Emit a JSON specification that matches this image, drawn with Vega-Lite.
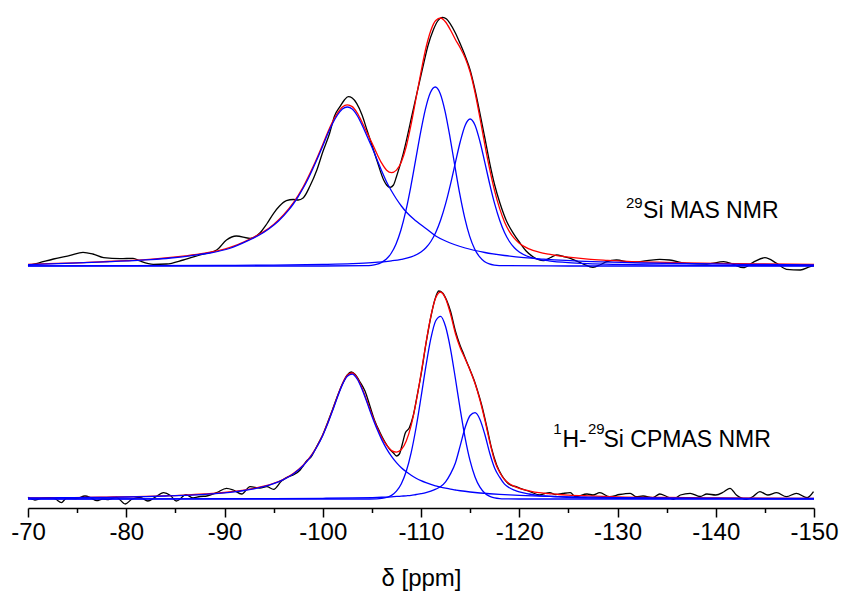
{
"$schema": "https://vega.github.io/schema/vega-lite/v6.json",
"width": 786, "height": 508,
"autosize": {"type": "none"},
"padding": {"left": 28, "top": 0, "right": 29, "bottom": 90},
"background": "white",
"config": {"view": {"stroke": null}, "font": "Liberation Sans"},
"datasets": {
"exp": [
{"g":"t","x":-70,"y":242.3},{"g":"t","x":-70.5,"y":243.5},{"g":"t","x":-71.2,"y":245.3},{"g":"t","x":-72.6,"y":249},{"g":"t","x":-74.3,"y":252.7},{"g":"t","x":-75.6,"y":255.7},{"g":"t","x":-76.6,"y":254},{"g":"t","x":-77.7,"y":250.3},{"g":"t","x":-79.4,"y":249.3},{"g":"t","x":-80.7,"y":249.7},{"g":"t","x":-81.4,"y":247},{"g":"t","x":-82.75,"y":243.7},{"g":"t","x":-84.1,"y":244},{"g":"t","x":-85.8,"y":248},{"g":"t","x":-87.5,"y":253},{"g":"t","x":-89.2,"y":258},{"g":"t","x":-90.2,"y":268},{"g":"t","x":-91.2,"y":272},{"g":"t","x":-92.6,"y":269.7},{"g":"t","x":-93.6,"y":275},{"g":"t","x":-94.3,"y":284},{"g":"t","x":-95.0,"y":294.7},{"g":"t","x":-95.6,"y":302},{"g":"t","x":-96.3,"y":307.3},{"g":"t","x":-97.0,"y":308.5},{"g":"t","x":-97.5,"y":308},{"g":"t","x":-98.0,"y":310},{"g":"t","x":-98.7,"y":322},{"g":"t","x":-99.4,"y":338},{"g":"t","x":-100.0,"y":356},{"g":"t","x":-100.7,"y":374.7},{"g":"t","x":-101.2,"y":392},{"g":"t","x":-101.75,"y":401.3},{"g":"t","x":-102.2,"y":408},{"g":"t","x":-102.6,"y":411.3},{"g":"t","x":-103.0,"y":410},{"g":"t","x":-103.45,"y":404.7},{"g":"t","x":-104.0,"y":393},{"g":"t","x":-104.5,"y":378},{"g":"t","x":-105.0,"y":363},{"g":"t","x":-105.5,"y":348},{"g":"t","x":-106.2,"y":328},{"g":"t","x":-106.5,"y":323},{"g":"t","x":-106.85,"y":320.7},{"g":"t","x":-107.2,"y":323},{"g":"t","x":-107.5,"y":331.3},{"g":"t","x":-108.2,"y":354.7},{"g":"t","x":-109.2,"y":398},{"g":"t","x":-110.2,"y":441.3},{"g":"t","x":-110.7,"y":462},{"g":"t","x":-111.25,"y":478},{"g":"t","x":-111.7,"y":487},{"g":"t","x":-112.2,"y":490.7},{"g":"t","x":-112.6,"y":489},{"g":"t","x":-112.95,"y":484.7},{"g":"t","x":-113.5,"y":475},{"g":"t","x":-113.97,"y":464.7},{"g":"t","x":-114.5,"y":452},{"g":"t","x":-115,"y":438},{"g":"t","x":-115.5,"y":418},{"g":"t","x":-116.0,"y":394.7},{"g":"t","x":-116.5,"y":370},{"g":"t","x":-117.0,"y":344.7},{"g":"t","x":-117.5,"y":323},{"g":"t","x":-118.04,"y":304.7},{"g":"t","x":-118.7,"y":287},{"g":"t","x":-119.4,"y":274.7},{"g":"t","x":-120.1,"y":264.7},{"g":"t","x":-120.7,"y":257},{"g":"t","x":-121.4,"y":251.3},{"g":"t","x":-122.45,"y":247.3},{"g":"t","x":-123.2,"y":250.5},{"g":"t","x":-123.8,"y":253},{"g":"t","x":-124.5,"y":251.5},{"g":"t","x":-125.2,"y":249.7},{"g":"t","x":-126.5,"y":244},{"g":"t","x":-127.5,"y":240.7},{"g":"t","x":-128.3,"y":243.5},{"g":"t","x":-128.9,"y":246.3},{"g":"t","x":-129.9,"y":248},{"g":"t","x":-131.3,"y":245.7},{"g":"t","x":-133.0,"y":247.3},{"g":"t","x":-134.3,"y":248.7},{"g":"t","x":-135.3,"y":248},{"g":"t","x":-137.0,"y":244.7},{"g":"t","x":-139.1,"y":244},{"g":"t","x":-140.8,"y":246.3},{"g":"t","x":-141.8,"y":243.7},{"g":"t","x":-142.8,"y":240.3},{"g":"t","x":-143.8,"y":245.7},{"g":"t","x":-145.0,"y":250.3},{"g":"t","x":-146.2,"y":244.7},{"g":"t","x":-147.2,"y":238.7},{"g":"t","x":-148.6,"y":238},{"g":"t","x":-149.6,"y":241.3},{"g":"t","x":-150,"y":242.3},
{"g":"b","x":-70,"y":10.7},{"g":"b","x":-70.7,"y":8},{"g":"b","x":-71.2,"y":9.3},{"g":"b","x":-72.2,"y":10.3},{"g":"b","x":-72.8,"y":9},{"g":"b","x":-73.4,"y":5.3},{"g":"b","x":-73.9,"y":9.7},{"g":"b","x":-74.9,"y":9.5},{"g":"b","x":-75.8,"y":12},{"g":"b","x":-76.4,"y":10.2},{"g":"b","x":-77.0,"y":7.3},{"g":"b","x":-77.6,"y":9},{"g":"b","x":-78.2,"y":8.5},{"g":"b","x":-79.0,"y":10.7},{"g":"b","x":-79.9,"y":4},{"g":"b","x":-80.6,"y":9},{"g":"b","x":-81.4,"y":10.7},{"g":"b","x":-82.2,"y":7},{"g":"b","x":-82.9,"y":10.5},{"g":"b","x":-83.8,"y":15.3},{"g":"b","x":-84.5,"y":12.5},{"g":"b","x":-85.1,"y":7},{"g":"b","x":-86.1,"y":13.3},{"g":"b","x":-86.8,"y":10},{"g":"b","x":-87.5,"y":11.5},{"g":"b","x":-88.2,"y":12},{"g":"b","x":-89.2,"y":15.3},{"g":"b","x":-90.2,"y":19.7},{"g":"b","x":-90.9,"y":18},{"g":"b","x":-91.75,"y":14},{"g":"b","x":-92.6,"y":21.3},{"g":"b","x":-93.6,"y":20},{"g":"b","x":-94.3,"y":21.3},{"g":"b","x":-95.0,"y":18.7},{"g":"b","x":-95.8,"y":27},{"g":"b","x":-96.5,"y":31.3},{"g":"b","x":-97.0,"y":33},{"g":"b","x":-97.7,"y":38},{"g":"b","x":-98,"y":42},{"g":"b","x":-98.4,"y":47.5},{"g":"b","x":-98.8,"y":51},{"g":"b","x":-99.2,"y":58},{"g":"b","x":-99.6,"y":65.5},{"g":"b","x":-100,"y":73},{"g":"b","x":-100.5,"y":85.5},{"g":"b","x":-101,"y":98.5},{"g":"b","x":-101.5,"y":112},{"g":"b","x":-102,"y":124},{"g":"b","x":-102.5,"y":133},{"g":"b","x":-102.9,"y":136},{"g":"b","x":-103.3,"y":133.5},{"g":"b","x":-103.8,"y":126},{"g":"b","x":-104.3,"y":117},{"g":"b","x":-104.8,"y":102},{"g":"b","x":-105.3,"y":87},{"g":"b","x":-105.8,"y":76},{"g":"b","x":-106.3,"y":66.5},{"g":"b","x":-106.8,"y":59},{"g":"b","x":-107.2,"y":55},{"g":"b","x":-107.5,"y":52},{"g":"b","x":-107.8,"y":54},{"g":"b","x":-108.1,"y":64},{"g":"b","x":-108.4,"y":75},{"g":"b","x":-108.8,"y":80},{"g":"b","x":-109.2,"y":92},{"g":"b","x":-109.6,"y":112},{"g":"b","x":-110.0,"y":133},{"g":"b","x":-110.5,"y":164},{"g":"b","x":-111.0,"y":191},{"g":"b","x":-111.4,"y":208},{"g":"b","x":-111.8,"y":217},{"g":"b","x":-112.2,"y":215},{"g":"b","x":-112.6,"y":208},{"g":"b","x":-113.0,"y":197},{"g":"b","x":-113.5,"y":177},{"g":"b","x":-114.0,"y":162},{"g":"b","x":-114.3,"y":155},{"g":"b","x":-114.65,"y":146.3},{"g":"b","x":-115.0,"y":138},{"g":"b","x":-115.4,"y":128},{"g":"b","x":-115.7,"y":119},{"g":"b","x":-116.2,"y":102},{"g":"b","x":-116.7,"y":81},{"g":"b","x":-117.2,"y":59},{"g":"b","x":-117.7,"y":43},{"g":"b","x":-118.2,"y":33},{"g":"b","x":-118.7,"y":26.3},{"g":"b","x":-119.2,"y":22.5},{"g":"b","x":-119.7,"y":21.3},{"g":"b","x":-120.1,"y":19.7},{"g":"b","x":-121.1,"y":16.3},{"g":"b","x":-122.1,"y":13},{"g":"b","x":-122.6,"y":14.5},{"g":"b","x":-123.1,"y":15.3},{"g":"b","x":-123.7,"y":13.5},{"g":"b","x":-124.4,"y":14.5},{"g":"b","x":-125.2,"y":15.3},{"g":"b","x":-125.7,"y":11.3},{"g":"b","x":-126.9,"y":14},{"g":"b","x":-127.5,"y":13},{"g":"b","x":-128.2,"y":15.3},{"g":"b","x":-129.2,"y":11.3},{"g":"b","x":-130.2,"y":13.5},{"g":"b","x":-131.3,"y":14.7},{"g":"b","x":-131.9,"y":11.3},{"g":"b","x":-132.6,"y":12},{"g":"b","x":-133.6,"y":10.3},{"g":"b","x":-134.3,"y":14},{"g":"b","x":-135.0,"y":11.5},{"g":"b","x":-135.7,"y":8.7},{"g":"b","x":-136.4,"y":13},{"g":"b","x":-137.4,"y":14.7},{"g":"b","x":-138.4,"y":11.5},{"g":"b","x":-139.1,"y":14},{"g":"b","x":-140.0,"y":13},{"g":"b","x":-140.8,"y":16},{"g":"b","x":-141.45,"y":19.7},{"g":"b","x":-142.1,"y":13},{"g":"b","x":-143.15,"y":8.7},{"g":"b","x":-143.8,"y":11.5},{"g":"b","x":-144.5,"y":16.3},{"g":"b","x":-145.3,"y":13},{"g":"b","x":-146.2,"y":15.3},{"g":"b","x":-147.2,"y":11.3},{"g":"b","x":-148.2,"y":14.7},{"g":"b","x":-149.3,"y":10.3},{"g":"b","x":-149.95,"y":16.3}
],
"fit": [
{"g":"t","x":-70,"y":243.6},{"g":"t","x":-72,"y":244.3},{"g":"t","x":-74,"y":244.8},{"g":"t","x":-76,"y":245.6},{"g":"t","x":-78,"y":246.5},{"g":"t","x":-80,"y":247.4},{"g":"t","x":-82,"y":248.4},{"g":"t","x":-84,"y":250.0},{"g":"t","x":-86,"y":252.1},{"g":"t","x":-88,"y":254.8},{"g":"t","x":-90,"y":258.8},{"g":"t","x":-91,"y":262.1},{"g":"t","x":-92,"y":266.2},{"g":"t","x":-93,"y":270.9},{"g":"t","x":-94,"y":276.4},{"g":"t","x":-95,"y":283.6},{"g":"t","x":-96,"y":293.0},{"g":"t","x":-97,"y":305.1},{"g":"t","x":-98,"y":320.9},{"g":"t","x":-99,"y":340.9},{"g":"t","x":-100,"y":363.6},{"g":"t","x":-100.5,"y":375.6},{"g":"t","x":-101,"y":386.2},{"g":"t","x":-101.5,"y":394.8},{"g":"t","x":-102,"y":401.0},{"g":"t","x":-102.5,"y":403.1},{"g":"t","x":-103,"y":401.4},{"g":"t","x":-103.5,"y":395.1},{"g":"t","x":-104,"y":385.8},{"g":"t","x":-104.5,"y":375.4},{"g":"t","x":-105,"y":365.2},{"g":"t","x":-105.5,"y":354.5},{"g":"t","x":-106,"y":344.8},{"g":"t","x":-106.5,"y":337.8},{"g":"t","x":-107,"y":335.4},{"g":"t","x":-107.5,"y":337.9},{"g":"t","x":-108,"y":346.1},{"g":"t","x":-108.5,"y":361.5},{"g":"t","x":-109,"y":384},{"g":"t","x":-109.5,"y":410},{"g":"t","x":-110,"y":436},{"g":"t","x":-110.5,"y":460},{"g":"t","x":-111,"y":477.5},{"g":"t","x":-111.5,"y":487.5},{"g":"t","x":-112,"y":490},{"g":"t","x":-112.5,"y":486},{"g":"t","x":-113,"y":478},{"g":"t","x":-113.5,"y":468.5},{"g":"t","x":-114,"y":460},{"g":"t","x":-114.5,"y":450},{"g":"t","x":-115,"y":436},{"g":"t","x":-115.5,"y":415.5},{"g":"t","x":-116,"y":390},{"g":"t","x":-116.5,"y":363.2},{"g":"t","x":-117,"y":338.4},{"g":"t","x":-117.5,"y":316.9},{"g":"t","x":-118,"y":299.6},{"g":"t","x":-118.5,"y":286.1},{"g":"t","x":-119,"y":276.4},{"g":"t","x":-119.5,"y":269.6},{"g":"t","x":-120,"y":264.8},{"g":"t","x":-121,"y":259.1},{"g":"t","x":-122,"y":255.9},{"g":"t","x":-123,"y":253.8},{"g":"t","x":-124,"y":252.2},{"g":"t","x":-125,"y":250.9},{"g":"t","x":-127,"y":248.9},{"g":"t","x":-129,"y":247.7},{"g":"t","x":-131,"y":246.7},{"g":"t","x":-134,"y":245.8},{"g":"t","x":-137,"y":245.1},{"g":"t","x":-140,"y":244.6},{"g":"t","x":-145,"y":244.0},{"g":"t","x":-150,"y":243.5},
{"g":"b","x":-70,"y":10.1},{"g":"b","x":-72,"y":10.2},{"g":"b","x":-74,"y":10.4},{"g":"b","x":-76,"y":10.6},{"g":"b","x":-78,"y":10.9},{"g":"b","x":-80,"y":11.2},{"g":"b","x":-82,"y":11.6},{"g":"b","x":-84,"y":12.2},{"g":"b","x":-86,"y":12.9},{"g":"b","x":-88,"y":14.0},{"g":"b","x":-90,"y":15.5},{"g":"b","x":-91,"y":16.6},{"g":"b","x":-92,"y":17.9},{"g":"b","x":-93,"y":19.6},{"g":"b","x":-94,"y":21.8},{"g":"b","x":-95,"y":24.7},{"g":"b","x":-96,"y":28.7},{"g":"b","x":-97,"y":34.5},{"g":"b","x":-98,"y":42.8},{"g":"b","x":-98.5,"y":48.4},{"g":"b","x":-99,"y":55.1},{"g":"b","x":-99.5,"y":63.3},{"g":"b","x":-100,"y":73.3},{"g":"b","x":-100.5,"y":84.9},{"g":"b","x":-101,"y":98.1},{"g":"b","x":-101.5,"y":111.8},{"g":"b","x":-102,"y":124.3},{"g":"b","x":-102.5,"y":132.7},{"g":"b","x":-103,"y":135.0},{"g":"b","x":-103.5,"y":130.1},{"g":"b","x":-104,"y":119.9},{"g":"b","x":-104.5,"y":106.9},{"g":"b","x":-105,"y":93.5},{"g":"b","x":-105.5,"y":81.2},{"g":"b","x":-106,"y":70.8},{"g":"b","x":-106.5,"y":62.8},{"g":"b","x":-107,"y":57.4},{"g":"b","x":-107.5,"y":55.8},{"g":"b","x":-108,"y":58.5},{"g":"b","x":-108.5,"y":67.1},{"g":"b","x":-109,"y":82.7},{"g":"b","x":-109.5,"y":105.8},{"g":"b","x":-110,"y":134.2},{"g":"b","x":-110.5,"y":164.6},{"g":"b","x":-111,"y":191.7},{"g":"b","x":-111.5,"y":210.3},{"g":"b","x":-112,"y":216.0},{"g":"b","x":-112.5,"y":209.4},{"g":"b","x":-113,"y":194.1},{"g":"b","x":-113.5,"y":174.5},{"g":"b","x":-114,"y":160.0},{"g":"b","x":-114.5,"y":149.0},{"g":"b","x":-115,"y":137.6},{"g":"b","x":-115.5,"y":124.5},{"g":"b","x":-116,"y":108},{"g":"b","x":-116.5,"y":88},{"g":"b","x":-117,"y":66},{"g":"b","x":-117.5,"y":47},{"g":"b","x":-118,"y":35.8},{"g":"b","x":-118.5,"y":28.4},{"g":"b","x":-119,"y":24.3},{"g":"b","x":-119.5,"y":21.7},{"g":"b","x":-120,"y":19.7},{"g":"b","x":-121,"y":17.2},{"g":"b","x":-122,"y":15.3},{"g":"b","x":-123,"y":14.4},{"g":"b","x":-124,"y":13.5},{"g":"b","x":-125,"y":12.9},{"g":"b","x":-127,"y":12.1},{"g":"b","x":-130,"y":11.2},{"g":"b","x":-135,"y":10.5},{"g":"b","x":-140,"y":10.1},{"g":"b","x":-145,"y":9.8},{"g":"b","x":-150,"y":9.6}
],
"comp": [
{"g":"t1","x":-70,"y":243.4},{"g":"t1","x":-74.5,"y":244.8},{"g":"t1","x":-78.5,"y":246.4},{"g":"t1","x":-82.5,"y":248.4},{"g":"t1","x":-84.5,"y":250.0},{"g":"t1","x":-86.5,"y":252.2},{"g":"t1","x":-88.5,"y":255.0},{"g":"t1","x":-90.5,"y":259.5},{"g":"t1","x":-92.5,"y":267.8},{"g":"t1","x":-93.5,"y":272.7},{"g":"t1","x":-94.5,"y":279.0},{"g":"t1","x":-95.5,"y":287.0},{"g":"t1","x":-96.5,"y":297.6},{"g":"t1","x":-97,"y":304.0},{"g":"t1","x":-97.5,"y":311.4},{"g":"t1","x":-98,"y":319.7},{"g":"t1","x":-98.5,"y":329.0},{"g":"t1","x":-99,"y":339.5},{"g":"t1","x":-99.5,"y":350.5},{"g":"t1","x":-100,"y":362.0},{"g":"t1","x":-100.5,"y":374.0},{"g":"t1","x":-101,"y":384.5},{"g":"t1","x":-101.5,"y":393.0},{"g":"t1","x":-102,"y":399.0},{"g":"t1","x":-102.5,"y":401.0},{"g":"t1","x":-103,"y":399.0},{"g":"t1","x":-103.5,"y":392.5},{"g":"t1","x":-104,"y":383.0},{"g":"t1","x":-104.5,"y":372.0},{"g":"t1","x":-105,"y":361.0},{"g":"t1","x":-105.5,"y":349.0},{"g":"t1","x":-106,"y":337.0},{"g":"t1","x":-106.5,"y":326.0},{"g":"t1","x":-107,"y":317.0},{"g":"t1","x":-107.5,"y":309.0},{"g":"t1","x":-108,"y":302.0},{"g":"t1","x":-108.5,"y":296.0},{"g":"t1","x":-109.5,"y":287.0},{"g":"t1","x":-110.5,"y":279.5},{"g":"t1","x":-111.5,"y":272.0},{"g":"t1","x":-112.5,"y":267.0},{"g":"t1","x":-114.5,"y":260.0},{"g":"t1","x":-116.5,"y":255.5},{"g":"t1","x":-118.5,"y":252.5},{"g":"t1","x":-120.5,"y":250.3},{"g":"t1","x":-122.5,"y":248.8},{"g":"t1","x":-127.5,"y":246.3},{"g":"t1","x":-132.5,"y":245.0},{"g":"t1","x":-142.5,"y":243.7},{"g":"t1","x":-150,"y":243.2},
{"g":"t2","x":-70,"y":242},{"g":"t2","x":-100,"y":242},{"g":"t2","x":-104.45,"y":242.3},{"g":"t2","x":-104.95,"y":242.7},{"g":"t2","x":-105.45,"y":243.6},{"g":"t2","x":-105.95,"y":245.4},{"g":"t2","x":-106.45,"y":248.7},{"g":"t2","x":-106.95,"y":254.5},{"g":"t2","x":-107.45,"y":263.8},{"g":"t2","x":-107.95,"y":277.7},{"g":"t2","x":-108.45,"y":296.8},{"g":"t2","x":-108.95,"y":320.7},{"g":"t2","x":-109.45,"y":347.8},{"g":"t2","x":-109.95,"y":375.1},{"g":"t2","x":-110.45,"y":398.9},{"g":"t2","x":-110.95,"y":415.2},{"g":"t2","x":-111.45,"y":421.0},{"g":"t2","x":-111.95,"y":414.6},{"g":"t2","x":-112.45,"y":396.7},{"g":"t2","x":-112.95,"y":370.9},{"g":"t2","x":-113.45,"y":341.8},{"g":"t2","x":-113.95,"y":313.8},{"g":"t2","x":-114.45,"y":290.1},{"g":"t2","x":-114.95,"y":271.9},{"g":"t2","x":-115.45,"y":259.3},{"g":"t2","x":-115.95,"y":251.3},{"g":"t2","x":-116.45,"y":246.6},{"g":"t2","x":-116.95,"y":244.1},{"g":"t2","x":-117.45,"y":242.9},{"g":"t2","x":-117.95,"y":242.4},{"g":"t2","x":-125,"y":242},{"g":"t2","x":-150,"y":242},
{"g":"t3","x":-70,"y":242.2},{"g":"t3","x":-80,"y":242.3},{"g":"t3","x":-90,"y":242.6},{"g":"t3","x":-95,"y":242.9},{"g":"t3","x":-100,"y":243.6},{"g":"t3","x":-103,"y":244.4},{"g":"t3","x":-105,"y":245.4},{"g":"t3","x":-107,"y":247.2},{"g":"t3","x":-108,"y":248.7},{"g":"t3","x":-109,"y":251.1},{"g":"t3","x":-110,"y":256.0},{"g":"t3","x":-110.5,"y":260.2},{"g":"t3","x":-111,"y":266.5},{"g":"t3","x":-111.5,"y":275.5},{"g":"t3","x":-112,"y":288.0},{"g":"t3","x":-112.5,"y":304.1},{"g":"t3","x":-113,"y":323.7},{"g":"t3","x":-113.5,"y":345.4},{"g":"t3","x":-114,"y":366.5},{"g":"t3","x":-114.5,"y":382.8},{"g":"t3","x":-115,"y":389.0},{"g":"t3","x":-115.5,"y":382.8},{"g":"t3","x":-116,"y":366.5},{"g":"t3","x":-116.5,"y":345.4},{"g":"t3","x":-117,"y":323.7},{"g":"t3","x":-117.5,"y":304.1},{"g":"t3","x":-118,"y":288.0},{"g":"t3","x":-118.5,"y":275.5},{"g":"t3","x":-119,"y":266.5},{"g":"t3","x":-119.5,"y":260.2},{"g":"t3","x":-120,"y":256.0},{"g":"t3","x":-121,"y":251.1},{"g":"t3","x":-122,"y":248.7},{"g":"t3","x":-123,"y":247.2},{"g":"t3","x":-125,"y":245.4},{"g":"t3","x":-127,"y":244.4},{"g":"t3","x":-130,"y":243.6},{"g":"t3","x":-135,"y":242.9},{"g":"t3","x":-140,"y":242.6},{"g":"t3","x":-145,"y":242.4},{"g":"t3","x":-150,"y":242.3},
{"g":"b1","x":-70,"y":10.0},{"g":"b1","x":-72,"y":10.1},{"g":"b1","x":-74,"y":10.3},{"g":"b1","x":-76,"y":10.5},{"g":"b1","x":-78,"y":10.7},{"g":"b1","x":-80,"y":11.0},{"g":"b1","x":-82,"y":11.4},{"g":"b1","x":-84,"y":12.0},{"g":"b1","x":-86,"y":12.7},{"g":"b1","x":-88,"y":13.7},{"g":"b1","x":-90,"y":15.2},{"g":"b1","x":-91,"y":16.2},{"g":"b1","x":-92,"y":17.5},{"g":"b1","x":-93,"y":19.2},{"g":"b1","x":-94,"y":21.4},{"g":"b1","x":-95,"y":24.3},{"g":"b1","x":-96,"y":28.3},{"g":"b1","x":-97,"y":34.0},{"g":"b1","x":-98,"y":42.3},{"g":"b1","x":-98.5,"y":47.8},{"g":"b1","x":-99,"y":54.5},{"g":"b1","x":-99.5,"y":62.7},{"g":"b1","x":-100,"y":72.6},{"g":"b1","x":-100.5,"y":84.2},{"g":"b1","x":-101,"y":97.3},{"g":"b1","x":-101.5,"y":111.0},{"g":"b1","x":-102,"y":123.4},{"g":"b1","x":-102.5,"y":131.7},{"g":"b1","x":-103,"y":133.9},{"g":"b1","x":-103.5,"y":129.0},{"g":"b1","x":-104,"y":118.7},{"g":"b1","x":-104.5,"y":105.6},{"g":"b1","x":-105,"y":92.0},{"g":"b1","x":-105.5,"y":79.4},{"g":"b1","x":-106,"y":68.4},{"g":"b1","x":-106.5,"y":59.2},{"g":"b1","x":-107,"y":51.6},{"g":"b1","x":-107.5,"y":45.4},{"g":"b1","x":-108,"y":40.3},{"g":"b1","x":-108.5,"y":36.2},{"g":"b1","x":-109,"y":32.7},{"g":"b1","x":-109.5,"y":29.8},{"g":"b1","x":-110,"y":27.4},{"g":"b1","x":-110.5,"y":25.4},{"g":"b1","x":-111,"y":23.6},{"g":"b1","x":-111.5,"y":22.2},{"g":"b1","x":-112,"y":20.9},{"g":"b1","x":-112.5,"y":19.8},{"g":"b1","x":-113,"y":18.8},{"g":"b1","x":-113.5,"y":18.0},{"g":"b1","x":-114,"y":17.25},{"g":"b1","x":-115,"y":16.0},{"g":"b1","x":-116,"y":15.0},{"g":"b1","x":-117,"y":14.24},{"g":"b1","x":-118,"y":13.6},{"g":"b1","x":-119,"y":13.06},{"g":"b1","x":-120,"y":12.6},{"g":"b1","x":-122,"y":11.9},{"g":"b1","x":-124,"y":11.4},{"g":"b1","x":-127,"y":10.85},{"g":"b1","x":-130,"y":10.46},{"g":"b1","x":-135,"y":10.05},{"g":"b1","x":-140,"y":9.8},{"g":"b1","x":-145,"y":9.6},{"g":"b1","x":-150,"y":9.5},
{"g":"b2","x":-70,"y":9},{"g":"b2","x":-104,"y":9},{"g":"b2","x":-105.5,"y":9.2},{"g":"b2","x":-106,"y":9.6},{"g":"b2","x":-106.5,"y":10.6},{"g":"b2","x":-107,"y":12.6},{"g":"b2","x":-107.5,"y":16.8},{"g":"b2","x":-108,"y":24.3},{"g":"b2","x":-108.5,"y":36.7},{"g":"b2","x":-109,"y":55.4},{"g":"b2","x":-109.5,"y":80.5},{"g":"b2","x":-110,"y":110.5},{"g":"b2","x":-110.5,"y":141.9},{"g":"b2","x":-111,"y":169.3},{"g":"b2","x":-111.5,"y":187.3},{"g":"b2","x":-112,"y":191.7},{"g":"b2","x":-112.5,"y":181.5},{"g":"b2","x":-113,"y":159.2},{"g":"b2","x":-113.5,"y":129.5},{"g":"b2","x":-114,"y":98.1},{"g":"b2","x":-114.5,"y":69.7},{"g":"b2","x":-115,"y":47.1},{"g":"b2","x":-115.5,"y":31.1},{"g":"b2","x":-116,"y":20.8},{"g":"b2","x":-116.5,"y":14.8},{"g":"b2","x":-117,"y":11.6},{"g":"b2","x":-117.5,"y":10.1},{"g":"b2","x":-118,"y":9.4},{"g":"b2","x":-118.5,"y":9.15},{"g":"b2","x":-120,"y":9},{"g":"b2","x":-150,"y":9},
{"g":"b3","x":-70,"y":9.1},{"g":"b3","x":-80,"y":9.15},{"g":"b3","x":-90,"y":9.3},{"g":"b3","x":-95,"y":9.4},{"g":"b3","x":-100,"y":9.7},{"g":"b3","x":-103,"y":10.05},{"g":"b3","x":-105,"y":10.45},{"g":"b3","x":-106,"y":10.75},{"g":"b3","x":-107,"y":11.2},{"g":"b3","x":-108,"y":11.9},{"g":"b3","x":-108.5,"y":12.2},{"g":"b3","x":-109,"y":12.6},{"g":"b3","x":-109.5,"y":13.5},{"g":"b3","x":-110,"y":14.3},{"g":"b3","x":-110.5,"y":15.3},{"g":"b3","x":-111,"y":16.8},{"g":"b3","x":-111.5,"y":18.8},{"g":"b3","x":-112,"y":21.4},{"g":"b3","x":-112.5,"y":26.1},{"g":"b3","x":-113,"y":34.1},{"g":"b3","x":-113.5,"y":45.0},{"g":"b3","x":-114,"y":62.6},{"g":"b3","x":-114.5,"y":80.7},{"g":"b3","x":-115,"y":92.5},{"g":"b3","x":-115.5,"y":95.3},{"g":"b3","x":-116,"y":88.6},{"g":"b3","x":-116.5,"y":73.5},{"g":"b3","x":-117,"y":54.8},{"g":"b3","x":-117.5,"y":39.8},{"g":"b3","x":-118,"y":30.8},{"g":"b3","x":-118.5,"y":23.9},{"g":"b3","x":-119,"y":20.2},{"g":"b3","x":-119.5,"y":17.9},{"g":"b3","x":-120,"y":16.1},{"g":"b3","x":-121,"y":14.0},{"g":"b3","x":-122,"y":12.4},{"g":"b3","x":-123,"y":11.8},{"g":"b3","x":-124,"y":11.1},{"g":"b3","x":-125,"y":10.7},{"g":"b3","x":-127,"y":10.2},{"g":"b3","x":-130,"y":9.75},{"g":"b3","x":-135,"y":9.42},{"g":"b3","x":-140,"y":9.3},{"g":"b3","x":-145,"y":9.2},{"g":"b3","x":-150,"y":9.15}
],
"labels": [
{"t":"29","x":-130.86,"y":300,"s":"sup"},
{"t":"Si MAS NMR","x":-132.6,"y":290,"s":"main"},
{"t":"1","x":-123.45,"y":74,"s":"sup"},
{"t":"H-","x":-124.4,"y":61.5,"s":"main"},
{"t":"29","x":-127.0,"y":74,"s":"sup"},
{"t":"Si CPMAS NMR","x":-128.57,"y":61.5,"s":"main"}
]
},
"layer": [
{"data": {"name": "exp"},
 "mark": {"type": "line", "color": "#000000", "strokeWidth": 1.3, "interpolate": "monotone"},
 "encoding": {
  "x": {"field": "x", "type": "quantitative", "scale": {"domain": [-150, -70], "reverse": true, "nice": false, "zero": false},
        "axis": {"orient": "bottom", "values": [-70,-80,-90,-100,-110,-120,-130,-140,-150], "labelExpr": "'' + datum.value", "tickSize": 9, "tickWidth": 1.5, "tickColor": "#000000", "domainColor": "#000000", "domainWidth": 1.5, "labelFontSize": 24, "labelFont": "Liberation Sans", "labelColor": "#000000", "labelPadding": 3, "labelFlush": false, "labelOverlap": false, "grid": false, "title": "δ [ppm]", "titleFontSize": 24, "titleFont": "Liberation Sans", "titleFontWeight": "normal", "titleColor": "#000000", "titlePadding": 22}},
  "y": {"field": "y", "type": "quantitative", "scale": {"domain": [0, 508], "nice": false, "zero": false}, "axis": null},
  "detail": {"field": "g"}
 }},
{"data": {"name": "fit"},
 "mark": {"type": "line", "color": "#ff0000", "strokeWidth": 1.3, "interpolate": "monotone"},
 "encoding": {
  "x": {"field": "x", "type": "quantitative",
        "axis": {"orient": "bottom", "offset": 0, "values": [-75,-85,-95,-105,-115,-125,-135,-145], "tickSize": 4.5, "tickWidth": 1.5, "tickColor": "#000000", "domain": false, "labels": false, "grid": false, "title": null}},
  "y": {"field": "y", "type": "quantitative", "axis": null},
  "detail": {"field": "g"}
 }},
{"data": {"name": "comp"},
 "mark": {"type": "line", "color": "#0000ff", "strokeWidth": 1.3, "interpolate": "monotone"},
 "encoding": {
  "x": {"field": "x", "type": "quantitative", "axis": null},
  "y": {"field": "y", "type": "quantitative", "axis": null},
  "detail": {"field": "g"}
 }},
{"data": {"name": "labels"},
 "transform": [{"filter": "datum.s == 'main'"}],
 "mark": {"type": "text", "align": "left", "baseline": "alphabetic", "fontSize": 23, "font": "Liberation Sans", "color": "#000000"},
 "encoding": {
  "x": {"field": "x", "type": "quantitative", "axis": null},
  "y": {"field": "y", "type": "quantitative", "axis": null},
  "text": {"field": "t"}
 }},
{"data": {"name": "labels"},
 "transform": [{"filter": "datum.s == 'sup'"}],
 "mark": {"type": "text", "align": "left", "baseline": "alphabetic", "fontSize": 15, "font": "Liberation Sans", "color": "#000000"},
 "encoding": {
  "x": {"field": "x", "type": "quantitative", "axis": null},
  "y": {"field": "y", "type": "quantitative", "axis": null},
  "text": {"field": "t"}
 }}
],
"resolve": {"axis": {"x": "independent"}}
}
